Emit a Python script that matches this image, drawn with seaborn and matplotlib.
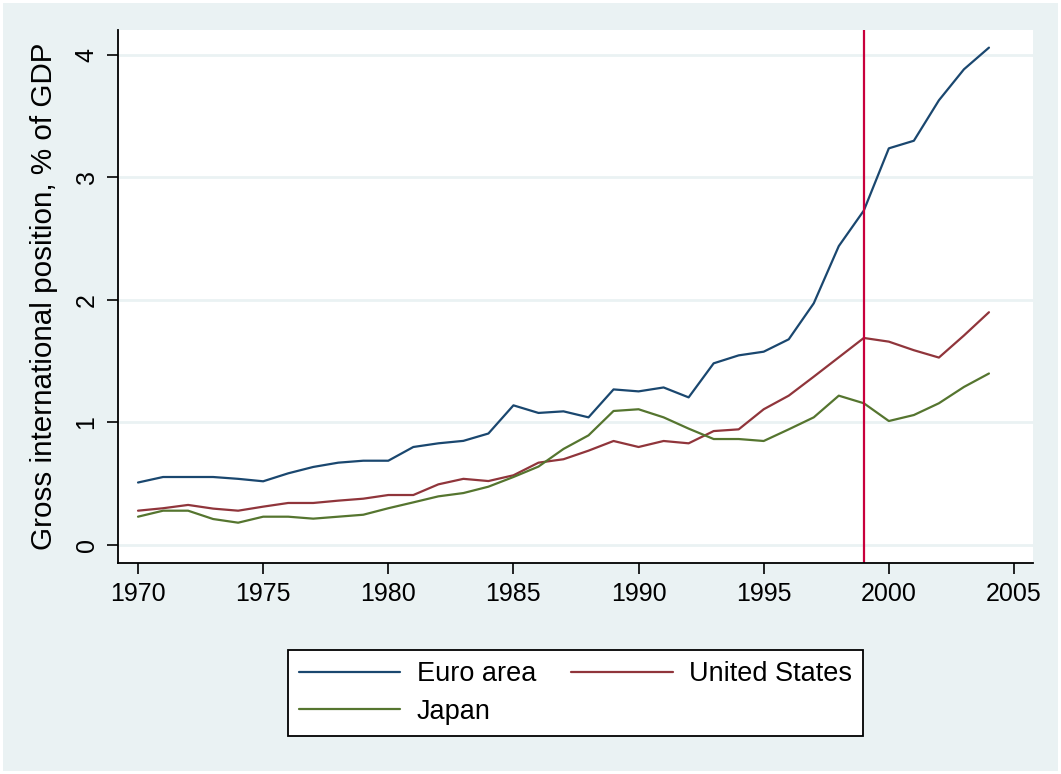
import numpy as np
import pandas as pd
import matplotlib
matplotlib.use("Agg")
import matplotlib.pyplot as plt
import seaborn as sns

# --------------------------------------------------
# Data
# --------------------------------------------------

years = list(range(1970, 2005))

euro_area = [0.51, 0.555, 0.555, 0.555, 0.54, 0.52, 0.585, 0.637, 0.672, 0.688,
             0.688, 0.80, 0.83, 0.85, 0.91, 1.14, 1.078, 1.091, 1.042, 1.27,
             1.254, 1.286, 1.205, 1.483, 1.548, 1.578, 1.679, 1.973, 2.44, 2.73,
             3.238, 3.30, 3.63, 3.883, 4.06]

united_states = [0.28, 0.30, 0.327, 0.297, 0.28, 0.313, 0.343, 0.343, 0.362, 0.378,
                 0.408, 0.408, 0.495, 0.54, 0.522, 0.569, 0.672, 0.70, 0.77, 0.849,
                 0.80, 0.849, 0.83, 0.93, 0.944, 1.108, 1.219, 1.374, 1.532, 1.69,
                 1.66, 1.59, 1.53, 1.71, 1.90]

japan = [0.231, 0.28, 0.28, 0.212, 0.182, 0.231, 0.231, 0.215, 0.231, 0.247,
         0.30, 0.348, 0.397, 0.424, 0.476, 0.555, 0.64, 0.784, 0.895, 1.094,
         1.108, 1.042, 0.95, 0.865, 0.865, 0.849, 0.944, 1.042, 1.219, 1.157,
         1.012, 1.061, 1.157, 1.29, 1.40]

series_names = ["Euro area", "United States", "Japan"]
series_colors = ["#1A476F", "#90353B", "#55752F"]

euro_start_year = 1999

x_ticks = [1970, 1975, 1980, 1985, 1990, 1995, 2000, 2005]
y_ticks = [0, 1, 2, 3, 4]

df = pd.DataFrame({
    "year": years * 3,
    "value": euro_area + united_states + japan,
    "series": [s for s in series_names for _ in years],
})

# --------------------------------------------------
# Style
# --------------------------------------------------

BG = "#EAF2F3"
TICK_FS = 18
LEG_FS = 19.5

sns.set_style("white")
plt.rcParams["font.family"] = ["Liberation Sans", "DejaVu Sans"]
plt.rcParams["text.color"] = "black"
plt.rcParams["axes.labelcolor"] = "black"
plt.rcParams["xtick.color"] = "black"
plt.rcParams["ytick.color"] = "black"

fig = plt.figure(figsize=(10.61, 7.74), dpi=100)
fig.patch.set_facecolor(BG)
fig.patch.set_edgecolor("white")
fig.patch.set_linewidth(4)

ax = fig.add_axes([118 / 1061, 1 - 563 / 774, (1033 - 118) / 1061, (563 - 30) / 774])
ax.set_facecolor("white")

# --------------------------------------------------
# Plot
# --------------------------------------------------

for yt in y_ticks:
    ax.axhline(yt, color=BG, linewidth=2, zorder=0)

sns.lineplot(
    data=df,
    x="year",
    y="value",
    hue="series",
    hue_order=series_names,
    palette=series_colors,
    linewidth=1.6,
    ax=ax,
    legend=False,
)

ax.axvline(euro_start_year, color="#C8003C", linewidth=1.6)

ax.set_xlim(1969.2, 2005.76)
ax.set_ylim(-0.147, 4.204)
ax.set_xticks(x_ticks)
ax.set_yticks(y_ticks)
ax.set_xticklabels([str(t) for t in x_ticks], fontsize=TICK_FS, color="black")
ax.set_yticklabels([str(t) for t in y_ticks], fontsize=TICK_FS, rotation=90,
                   va="center", color="black")

ax.tick_params(axis="both", direction="out", length=8, width=1.2, color="black",
               labelcolor="black", bottom=True, left=True, pad=6)

ax.set_xlabel("")
ax.set_ylabel("Gross international position, % of GDP", fontsize=21.3,
              labelpad=12, color="black")

for side in ["top", "right"]:
    ax.spines[side].set_visible(False)
for side in ["left", "bottom"]:
    ax.spines[side].set_color("black")
    ax.spines[side].set_linewidth(1.3)

# --------------------------------------------------
# Legend (column-major fill: Euro area / Japan, then United States)
# --------------------------------------------------

order = [0, 2, 1]
handles = [plt.Line2D([], [], color=series_colors[i], linewidth=1.6) for i in order]
labels = [series_names[i] for i in order]

leg = fig.legend(
    handles,
    labels,
    loc="center",
    bbox_to_anchor=(575.5 / 1061, 1 - 693 / 774),
    ncol=2,
    fontsize=LEG_FS,
    frameon=True,
    fancybox=False,
    framealpha=1,
    edgecolor="black",
    handlelength=3.74,
    handletextpad=0.6,
    columnspacing=1.3,
    labelspacing=0.42,
    borderpad=0.4,
)
leg.get_frame().set_linewidth(1.3)
leg.get_frame().set_facecolor("white")
for txt in leg.get_texts():
    txt.set_color("black")

plt.savefig("out.png", dpi=100, facecolor=fig.get_facecolor(), edgecolor="white")
plt.close()
